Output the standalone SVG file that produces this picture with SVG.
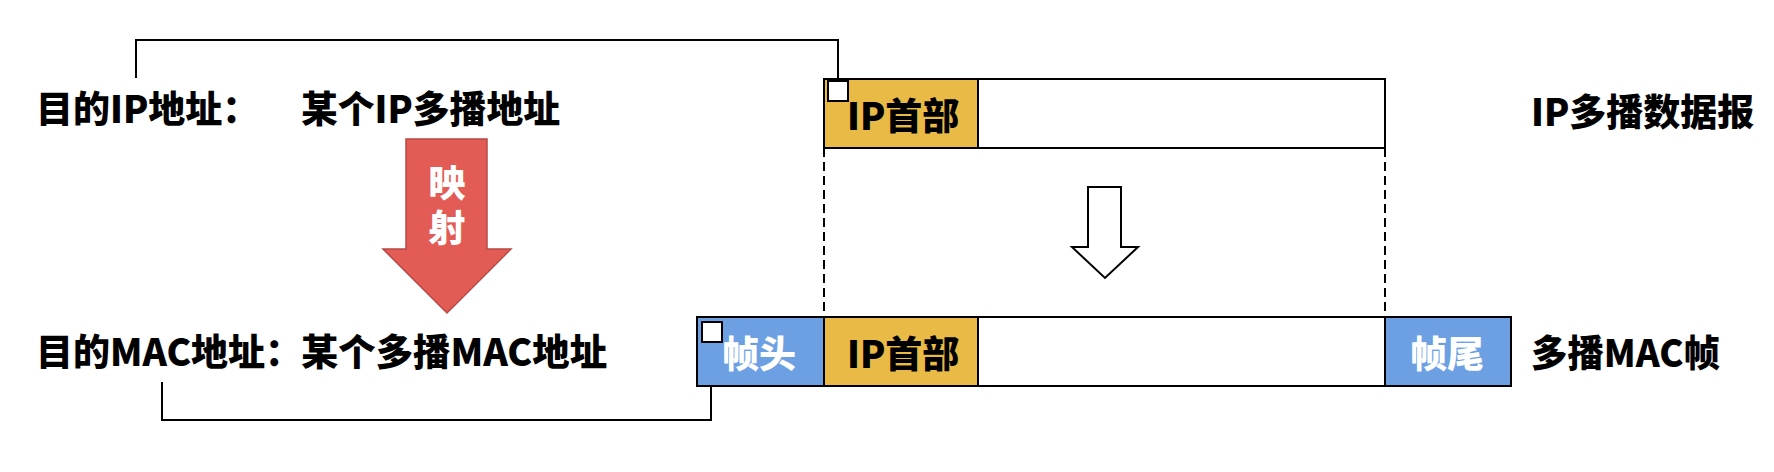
<svg xmlns="http://www.w3.org/2000/svg" width="1774" height="472" viewBox="0 0 1774 472">
<style>
  .t { font-family: "Noto Sans CJK SC", "Liberation Sans", sans-serif; font-weight: 900; font-size: 37px; fill: #000; }
  .w { fill: #fff; }
  .v { writing-mode: vertical-rl; letter-spacing: 8px; }
  .box { stroke: #000; stroke-width: 2; }
  .yel { fill: #E9BA46; }
  .blu { fill: #6CA0E3; }
  .wht { fill: #fff; }
  .ln { fill: none; stroke: #000; stroke-width: 2; }
  .dash { fill: none; stroke: #000; stroke-width: 2; stroke-dasharray: 9 5; }
  .sq { fill: #fff; stroke: #000; stroke-width: 2; }
</style>
<rect width="1774" height="472" fill="#fff"/>

<g id="labels-left">
  <text class="t" x="36" y="123">目的IP地址：</text>
  <text class="t" x="301" y="123" textLength="259" lengthAdjust="spacingAndGlyphs">某个IP多播地址</text>
  <text class="t" x="36" y="366">目的MAC地址：</text>
  <text class="t" x="301" y="366" textLength="306" lengthAdjust="spacingAndGlyphs">某个多播MAC地址</text>
</g>

<g id="map-arrow">
  <polygon points="406,139 487,139 487,249 511,249 447,313 383,249 406,249" fill="#E35B55" stroke="#B84944" stroke-width="1.5"/>
  <text class="t w v" x="447" y="164">映射</text>
</g>

<g id="connectors">
  <polyline class="ln" points="136,78 136,40 838,40 838,81"/>
  <polyline class="ln" points="162,382 162,420 711,420 711,342"/>
  <line class="dash" x1="824" y1="148" x2="824" y2="317"/>
  <line class="dash" x1="1385" y1="148" x2="1385" y2="317"/>
  <polygon points="1088,187 1121,187 1121,247 1138,247 1105,278 1072,247 1088,247" fill="#fff" stroke="#000" stroke-width="2"/>
</g>

<g id="ip-datagram">
  <rect class="box wht" x="978" y="79" width="407" height="69"/>
  <rect class="box yel" x="824" y="79" width="154" height="69"/>
  <text class="t" x="847" y="130">IP首部</text>
  <rect class="sq" x="828" y="81" width="20" height="20"/>
  <text class="t" x="1531" y="126">IP多播数据报</text>
</g>

<g id="mac-frame">
  <rect class="box wht" x="978" y="317" width="407" height="69"/>
  <rect class="box blu" x="697" y="317" width="127" height="69"/>
  <rect class="box yel" x="824" y="317" width="154" height="69"/>
  <rect class="box blu" x="1385" y="317" width="126" height="69"/>
  <text class="t w" x="722" y="368">帧头</text>
  <text class="t" x="847" y="368">IP首部</text>
  <text class="t w" x="1410" y="368">帧尾</text>
  <rect class="sq" x="702" y="322" width="20" height="20"/>
  <text class="t" x="1531" y="367" textLength="189" lengthAdjust="spacingAndGlyphs">多播MAC帧</text>
</g>
</svg>
